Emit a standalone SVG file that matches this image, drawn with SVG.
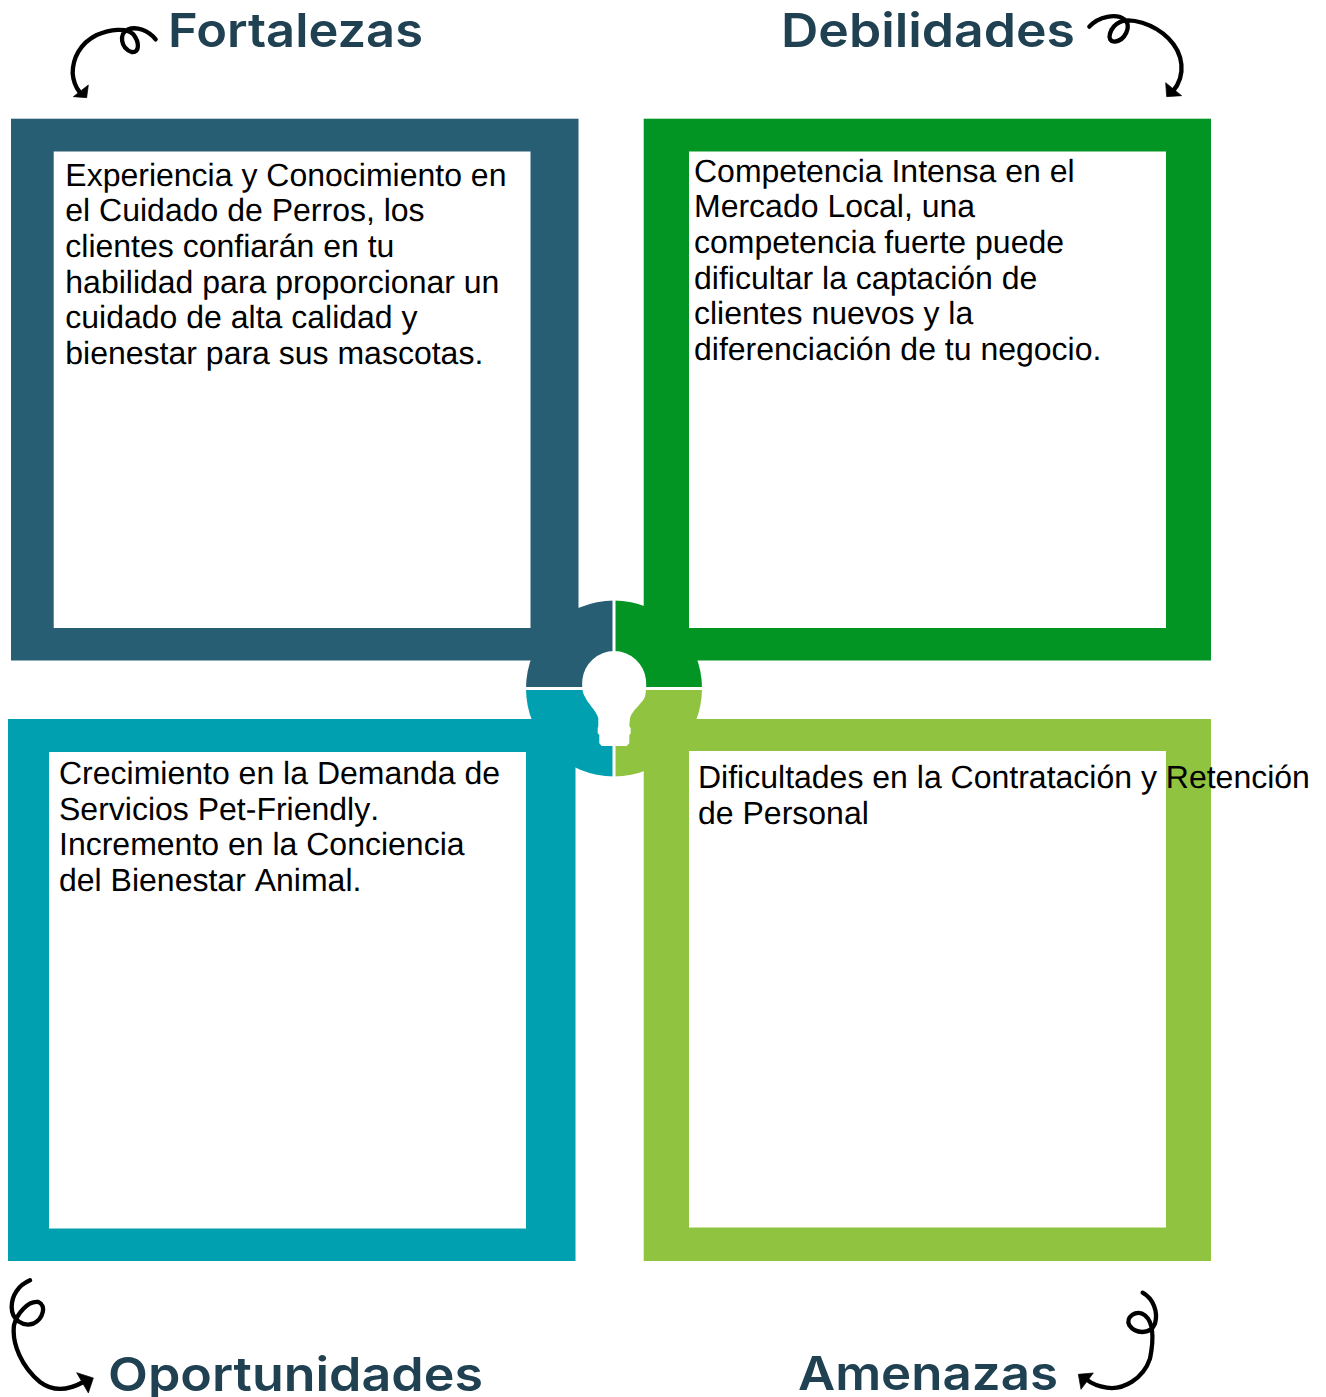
<svg xmlns="http://www.w3.org/2000/svg" width="1326" height="1397" viewBox="0 0 1326 1397">
<style>
.h{font-family:"Inter","Noto Sans",sans-serif;font-size:47px;font-weight:600;fill:#1f4152}
.b{font-family:"Liberation Sans",Arial,sans-serif;font-size:32px;fill:#000;text-rendering:geometricPrecision;font-kerning:none}
.in{fill:#fff}
.arr{fill:none;stroke:#000;stroke-width:13;stroke-linecap:round;stroke-linejoin:round}
.tip{fill:#000;stroke:#000;stroke-width:2;stroke-linejoin:round}
</style>
<rect width="1326" height="1397" fill="#fff"/>
<g id="frame-fortalezas"><rect x="11" y="118.700" width="567.500" height="541.800" fill="#285e73"/><rect class="in" x="53.700" y="151.500" width="476.800" height="476.500"/></g>
<g id="frame-debilidades"><rect x="643.700" y="118.700" width="567.300" height="541.800" fill="#029524"/><rect class="in" x="689" y="151.500" width="477" height="476.500"/></g>
<g id="frame-oportunidades"><rect x="8" y="719" width="567.500" height="542" fill="#00a0b0"/><rect class="in" x="49" y="752" width="477" height="476.500"/></g>
<g id="frame-amenazas"><rect x="643.700" y="719" width="567.300" height="542" fill="#90c440"/><rect class="in" x="689" y="751" width="477" height="476.500"/></g>
<g id="hub">
<path d="M614 688.500V600.500A88 88 0 0 0 526 688.500Z" fill="#285e73"/>
<path d="M614 688.500V600.500A88 88 0 0 1 702 688.500Z" fill="#029524"/>
<path d="M614 688.500V776.500A88 88 0 0 1 526 688.500Z" fill="#00a0b0"/>
<path d="M614 688.500V776.500A88 88 0 0 0 702 688.500Z" fill="#90c440"/>
<path d="M614 598V779M524 688.500H704" stroke="#fff" stroke-width="3" fill="none"/>
<path fill="#fff" d="M582.300 680A32 32 0 0 1 646 680C646.500 686 646 692 645 696.700C642 704 632 710 630 718.300L629.300 726L630.700 728.300V733.300L629.300 735V743.300L626.700 746H601.700L599.300 743.300V735L597.700 733.300V728.300L598.300 726V718.300C596 710 588 704 585 696.700C582 692 582 686 582.300 680Z"/>
</g>
<g id="label-fortalezas"><text class="h" x="168" y="47" textLength="255" lengthAdjust="spacingAndGlyphs">Fortalezas</text></g>
<g id="label-debilidades"><text class="h" x="781" y="47" textLength="294" lengthAdjust="spacingAndGlyphs">Debilidades</text></g>
<g id="label-oportunidades"><text class="h" x="108" y="1391" textLength="375" lengthAdjust="spacingAndGlyphs">Oportunidades</text></g>
<g id="label-amenazas"><text class="h" x="798" y="1390" textLength="260" lengthAdjust="spacingAndGlyphs">Amenazas</text></g>
<g id="text-fortalezas">
<text class="b" x="65.300" y="186">Experiencia y Conocimiento en</text>
<text class="b" x="65.300" y="221">el Cuidado de Perros, los</text>
<text class="b" x="65.300" y="257">clientes confiarán en tu</text>
<text class="b" x="65.300" y="293">habilidad para proporcionar un</text>
<text class="b" x="65.300" y="328">cuidado de alta calidad y</text>
<text class="b" x="65.300" y="364">bienestar para sus mascotas.</text>
</g>
<g id="text-debilidades">
<text class="b" x="694" y="182">Competencia Intensa en el</text>
<text class="b" x="694" y="217">Mercado Local, una</text>
<text class="b" x="694" y="253">competencia fuerte puede</text>
<text class="b" x="694" y="289">dificultar la captación de</text>
<text class="b" x="694" y="324">clientes nuevos y la</text>
<text class="b" x="694" y="360">diferenciación de tu negocio.</text>
</g>
<g id="text-oportunidades">
<text class="b" x="59" y="784">Crecimiento en la Demanda de</text>
<text class="b" x="59" y="820">Servicios Pet-Friendly.</text>
<text class="b" x="59" y="855">Incremento en la Conciencia</text>
<text class="b" x="59" y="891">del Bienestar Animal.</text>
</g>
<g id="text-amenazas">
<text class="b" x="698" y="788">Dificultades en la Contratación y Retención</text>
<text class="b" x="698" y="824">de Personal</text>
</g>
<g id="connectors">
<g transform="scale(.33333)">
<path class="arr" d="M467 118C445 92 410 78 385 88C355 100 362 145 395 156C420 160 418 125 400 103C380 82 330 88 290 105C240 130 218 175 218 220C220 245 228 262 238 275"/>
<path class="tip" d="M265 255L220 290L260 293Z"/>
</g>
<g transform="translate(770) scale(.33333)">
<path class="arr" d="M958 80C985 50 1040 38 1065 60C1085 80 1065 120 1035 125C1005 125 1020 80 1050 66C1080 52 1150 70 1195 115C1240 160 1250 225 1208 275"/>
<path class="tip" d="M1187 248L1190 290L1235 287Z"/>
</g>
<g transform="translate(0 1267) scale(.33333)">
<path class="arr" d="M90 40C55 55 35 85 35 120C35 160 70 180 100 170C130 155 140 115 115 105C85 100 50 140 42 175C35 230 65 300 120 345C160 375 205 370 250 345"/>
<path class="tip" d="M230 317L280 333L265 378Z"/>
</g>
<g transform="translate(790 1267) scale(.33333)">
<path class="arr" d="M1058 77C1090 95 1105 135 1095 170C1080 205 1035 200 1018 175C1005 150 1040 125 1065 145C1095 170 1090 225 1080 275C1060 335 1000 370 950 362C925 358 905 350 890 338"/>
<path class="tip" d="M865 322L910 318L873 367Z"/>
</g>
</g>
</svg>
